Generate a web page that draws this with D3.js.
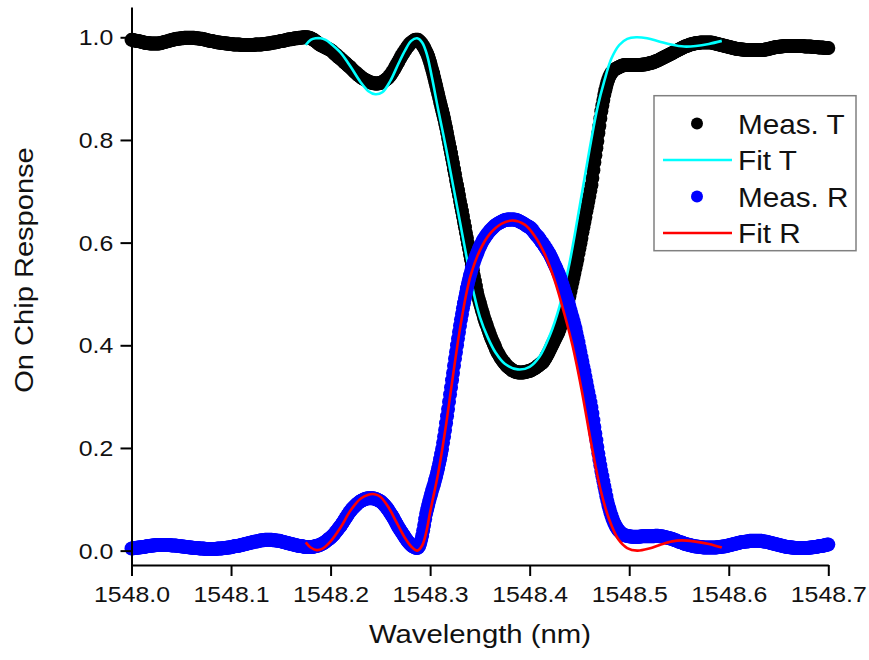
<!DOCTYPE html>
<html>
<head>
<meta charset="utf-8">
<script src="https://cdn.jsdelivr.net/npm/d3@7/dist/d3.min.js"></script>
<style>
  html, body { margin: 0; padding: 0; background: #fff; }
  svg { display: block; }
  text { font-family: "Liberation Sans", Arial, sans-serif; fill: #111; }
</style>
</head>
<body>
<svg id="chart" width="869" height="660"></svg>
<script>
// Sampling grid of the measured spectra (nm)
const wlStart = 1548.0;
const wlStep = 0.001;

// Measured transmission, one value per grid step (1548.000 ... 1548.700)
const measT = [
  0.995,0.995,0.994,0.994,0.993,0.993,0.993,0.993,0.992,0.992,0.991,0.991,0.990,0.990,0.989,0.989,0.989,0.989,0.988,0.988,
  0.988,0.988,0.988,0.988,0.988,0.988,0.988,0.988,0.988,0.989,0.989,0.990,0.990,0.991,0.991,0.992,0.992,0.993,0.993,0.994,
  0.994,0.995,0.995,0.996,0.996,0.997,0.997,0.997,0.997,0.998,0.998,0.998,0.998,0.999,0.999,0.999,0.999,0.999,0.999,0.999,
  0.999,0.999,0.999,0.999,0.998,0.998,0.998,0.998,0.997,0.997,0.997,0.997,0.996,0.996,0.995,0.995,0.994,0.994,0.993,0.993,
  0.993,0.993,0.992,0.992,0.991,0.991,0.990,0.990,0.990,0.990,0.989,0.989,0.989,0.989,0.988,0.988,0.988,0.988,0.987,0.987,
  0.987,0.987,0.986,0.986,0.986,0.986,0.986,0.986,0.986,0.986,0.985,0.985,0.985,0.985,0.985,0.985,0.985,0.985,0.985,0.985,
  0.985,0.985,0.985,0.985,0.986,0.986,0.986,0.986,0.986,0.986,0.986,0.986,0.987,0.987,0.987,0.987,0.988,0.988,0.988,0.988,
  0.989,0.989,0.990,0.990,0.990,0.990,0.991,0.991,0.992,0.992,0.993,0.993,0.993,0.993,0.994,0.994,0.995,0.995,0.996,0.996,
  0.996,0.996,0.997,0.997,0.998,0.998,0.998,0.998,0.999,0.999,0.999,0.999,1.000,1.000,1.000,1.000,1.000,1.000,0.999,0.999,
  0.998,0.997,0.996,0.995,0.994,0.992,0.991,0.989,0.988,0.986,0.985,0.984,0.983,0.982,0.981,0.980,0.979,0.978,0.977,0.976,
  0.975,0.974,0.972,0.970,0.968,0.967,0.965,0.963,0.961,0.960,0.958,0.957,0.955,0.953,0.951,0.950,0.948,0.946,0.944,0.943,
  0.941,0.939,0.937,0.935,0.933,0.932,0.930,0.928,0.926,0.925,0.923,0.922,0.920,0.919,0.918,0.917,0.916,0.915,0.914,0.913,
  0.912,0.912,0.911,0.911,0.910,0.910,0.910,0.910,0.910,0.911,0.911,0.912,0.913,0.914,0.915,0.917,0.918,0.920,0.921,0.924,
  0.926,0.929,0.932,0.935,0.938,0.942,0.945,0.949,0.952,0.956,0.959,0.963,0.966,0.969,0.972,0.975,0.978,0.981,0.983,0.986,
  0.988,0.990,0.991,0.993,0.994,0.995,0.995,0.995,0.995,0.993,0.991,0.989,0.986,0.983,0.980,0.976,0.972,0.968,0.963,0.957,
  0.951,0.944,0.937,0.930,0.922,0.914,0.906,0.898,0.890,0.882,0.874,0.866,0.858,0.850,0.842,0.833,0.824,0.814,0.804,0.794,
  0.784,0.774,0.764,0.754,0.743,0.733,0.722,0.712,0.702,0.692,0.681,0.671,0.661,0.651,0.640,0.630,0.619,0.609,0.598,0.588,
  0.577,0.567,0.556,0.546,0.535,0.525,0.515,0.505,0.496,0.489,0.482,0.475,0.468,0.462,0.455,0.449,0.443,0.438,0.432,0.427,
  0.421,0.416,0.411,0.407,0.402,0.398,0.393,0.389,0.385,0.382,0.378,0.375,0.372,0.370,0.367,0.365,0.362,0.360,0.358,0.357,
  0.355,0.354,0.352,0.351,0.350,0.349,0.348,0.348,0.347,0.347,0.347,0.347,0.347,0.347,0.347,0.348,0.348,0.349,0.349,0.350,
  0.350,0.351,0.352,0.353,0.354,0.355,0.356,0.358,0.359,0.361,0.362,0.364,0.365,0.367,0.369,0.372,0.375,0.379,0.382,0.386,
  0.390,0.394,0.398,0.402,0.406,0.410,0.414,0.418,0.422,0.426,0.431,0.437,0.443,0.450,0.456,0.463,0.470,0.477,0.483,0.490,
  0.496,0.505,0.514,0.523,0.532,0.541,0.550,0.559,0.568,0.579,0.589,0.599,0.609,0.620,0.630,0.640,0.650,0.661,0.671,0.681,
  0.691,0.701,0.712,0.726,0.741,0.756,0.770,0.784,0.798,0.813,0.827,0.842,0.856,0.867,0.878,0.888,0.897,0.905,0.912,0.918,
  0.923,0.927,0.930,0.933,0.935,0.937,0.938,0.939,0.940,0.941,0.942,0.943,0.944,0.945,0.945,0.946,0.946,0.946,0.946,0.946,
  0.946,0.946,0.946,0.946,0.946,0.946,0.946,0.946,0.946,0.946,0.946,0.946,0.946,0.947,0.947,0.947,0.947,0.948,0.948,0.949,
  0.949,0.950,0.950,0.951,0.951,0.952,0.953,0.954,0.954,0.955,0.956,0.957,0.958,0.959,0.960,0.961,0.962,0.963,0.964,0.965,
  0.966,0.967,0.968,0.969,0.970,0.971,0.972,0.973,0.974,0.975,0.976,0.977,0.978,0.979,0.980,0.981,0.982,0.983,0.983,0.984,
  0.985,0.986,0.986,0.987,0.987,0.988,0.988,0.989,0.989,0.989,0.989,0.990,0.990,0.990,0.990,0.990,0.990,0.990,0.990,0.990,
  0.990,0.990,0.990,0.990,0.989,0.989,0.988,0.988,0.987,0.987,0.986,0.986,0.985,0.985,0.984,0.984,0.983,0.983,0.982,0.982,
  0.981,0.981,0.980,0.980,0.979,0.979,0.978,0.978,0.977,0.977,0.977,0.977,0.976,0.976,0.976,0.976,0.975,0.975,0.975,0.975,
  0.975,0.975,0.975,0.975,0.975,0.975,0.975,0.975,0.975,0.975,0.975,0.975,0.975,0.975,0.975,0.975,0.976,0.976,0.976,0.977,
  0.977,0.978,0.978,0.979,0.979,0.980,0.980,0.981,0.981,0.981,0.981,0.982,0.982,0.982,0.982,0.983,0.983,0.983,0.983,0.983,
  0.983,0.983,0.983,0.983,0.983,0.983,0.983,0.983,0.983,0.983,0.983,0.983,0.983,0.983,0.983,0.983,0.982,0.982,0.982,0.982,
  0.982,0.982,0.982,0.982,0.981,0.981,0.981,0.981,0.981,0.981,0.980,0.980,0.980,0.980,0.980,0.980,0.979,0.979,0.979,0.979,
  0.979
];

// Measured reflection, one value per grid step (1548.000 ... 1548.700)
const measR = [
  0.004,0.004,0.005,0.005,0.005,0.005,0.006,0.006,0.006,0.006,0.007,0.007,0.007,0.007,0.008,0.008,0.009,0.009,0.009,0.009,
  0.010,0.010,0.010,0.010,0.011,0.011,0.011,0.011,0.011,0.011,0.011,0.011,0.011,0.011,0.011,0.011,0.011,0.011,0.011,0.011,
  0.010,0.010,0.010,0.010,0.010,0.010,0.009,0.009,0.009,0.009,0.008,0.008,0.008,0.008,0.007,0.007,0.007,0.007,0.006,0.006,
  0.006,0.006,0.005,0.005,0.005,0.005,0.005,0.005,0.004,0.004,0.004,0.004,0.004,0.004,0.003,0.003,0.003,0.003,0.003,0.003,
  0.003,0.003,0.003,0.003,0.003,0.003,0.004,0.004,0.004,0.004,0.004,0.004,0.005,0.005,0.005,0.005,0.006,0.006,0.006,0.006,
  0.007,0.007,0.008,0.008,0.009,0.009,0.009,0.009,0.010,0.010,0.011,0.011,0.012,0.012,0.013,0.013,0.014,0.014,0.015,0.015,
  0.016,0.016,0.017,0.017,0.018,0.018,0.018,0.018,0.019,0.019,0.020,0.020,0.020,0.020,0.021,0.021,0.021,0.021,0.021,0.021,
  0.021,0.021,0.020,0.020,0.020,0.020,0.019,0.019,0.019,0.019,0.018,0.018,0.017,0.017,0.016,0.016,0.015,0.015,0.014,0.014,
  0.013,0.013,0.012,0.012,0.011,0.011,0.010,0.010,0.009,0.009,0.009,0.009,0.008,0.008,0.007,0.007,0.007,0.007,0.007,0.007,
  0.007,0.007,0.007,0.008,0.008,0.009,0.009,0.010,0.010,0.011,0.012,0.013,0.014,0.015,0.016,0.018,0.019,0.021,0.022,0.024,
  0.025,0.027,0.029,0.031,0.033,0.036,0.038,0.041,0.043,0.046,0.048,0.051,0.054,0.057,0.060,0.063,0.066,0.069,0.072,0.075,
  0.077,0.080,0.082,0.084,0.086,0.088,0.090,0.092,0.093,0.095,0.096,0.097,0.098,0.099,0.100,0.101,0.101,0.102,0.102,0.102,
  0.102,0.102,0.102,0.102,0.101,0.101,0.100,0.099,0.098,0.097,0.096,0.095,0.093,0.091,0.089,0.087,0.084,0.082,0.079,0.076,
  0.073,0.070,0.067,0.064,0.060,0.057,0.053,0.050,0.046,0.043,0.040,0.037,0.034,0.031,0.028,0.025,0.022,0.020,0.017,0.015,
  0.013,0.011,0.009,0.008,0.007,0.006,0.005,0.005,0.006,0.009,0.014,0.021,0.029,0.039,0.050,0.061,0.072,0.080,0.088,0.096,
  0.103,0.110,0.117,0.124,0.130,0.137,0.144,0.152,0.160,0.169,0.178,0.188,0.198,0.210,0.222,0.235,0.248,0.262,0.276,0.290,
  0.304,0.318,0.332,0.346,0.360,0.374,0.387,0.400,0.413,0.426,0.438,0.450,0.461,0.472,0.482,0.492,0.502,0.511,0.520,0.528,
  0.536,0.543,0.550,0.556,0.562,0.568,0.573,0.578,0.583,0.588,0.592,0.596,0.600,0.604,0.607,0.610,0.613,0.616,0.618,0.621,
  0.623,0.625,0.627,0.629,0.631,0.633,0.634,0.636,0.637,0.638,0.639,0.640,0.641,0.642,0.643,0.644,0.644,0.645,0.645,0.645,
  0.645,0.645,0.645,0.645,0.645,0.645,0.644,0.644,0.643,0.642,0.641,0.640,0.639,0.638,0.637,0.636,0.634,0.633,0.632,0.631,
  0.630,0.628,0.626,0.624,0.621,0.619,0.616,0.614,0.612,0.610,0.607,0.604,0.601,0.599,0.596,0.593,0.590,0.587,0.584,0.581,
  0.578,0.574,0.570,0.566,0.561,0.557,0.553,0.549,0.544,0.540,0.535,0.530,0.524,0.518,0.512,0.506,0.500,0.494,0.488,0.482,
  0.475,0.468,0.461,0.454,0.447,0.440,0.433,0.424,0.415,0.406,0.396,0.387,0.377,0.368,0.358,0.349,0.339,0.329,0.319,0.309,
  0.299,0.289,0.279,0.267,0.254,0.241,0.228,0.215,0.202,0.189,0.177,0.166,0.155,0.145,0.135,0.125,0.116,0.106,0.097,0.089,
  0.082,0.075,0.069,0.063,0.058,0.054,0.050,0.046,0.043,0.040,0.038,0.036,0.034,0.032,0.031,0.030,0.030,0.029,0.029,0.028,
  0.028,0.028,0.027,0.027,0.027,0.027,0.027,0.027,0.027,0.027,0.027,0.027,0.028,0.028,0.028,0.028,0.028,0.028,0.028,0.028,
  0.028,0.028,0.028,0.028,0.028,0.028,0.029,0.029,0.029,0.029,0.028,0.028,0.028,0.028,0.027,0.027,0.026,0.026,0.025,0.025,
  0.024,0.024,0.023,0.023,0.022,0.021,0.020,0.020,0.019,0.018,0.017,0.017,0.016,0.016,0.015,0.014,0.013,0.013,0.012,0.012,
  0.011,0.011,0.010,0.010,0.009,0.009,0.008,0.008,0.008,0.008,0.007,0.007,0.007,0.007,0.006,0.006,0.006,0.006,0.006,0.006,
  0.006,0.006,0.006,0.006,0.006,0.006,0.006,0.006,0.006,0.007,0.007,0.007,0.007,0.008,0.008,0.008,0.008,0.009,0.009,0.010,
  0.010,0.011,0.011,0.012,0.012,0.013,0.013,0.014,0.014,0.015,0.015,0.016,0.016,0.017,0.017,0.017,0.017,0.018,0.018,0.018,
  0.018,0.019,0.019,0.019,0.019,0.019,0.019,0.019,0.019,0.019,0.019,0.019,0.019,0.019,0.018,0.018,0.018,0.018,0.017,0.017,
  0.016,0.016,0.015,0.015,0.014,0.014,0.013,0.013,0.012,0.012,0.011,0.011,0.010,0.010,0.009,0.009,0.008,0.008,0.007,0.007,
  0.007,0.007,0.006,0.006,0.006,0.006,0.005,0.005,0.005,0.005,0.005,0.005,0.005,0.005,0.005,0.005,0.005,0.005,0.005,0.005,
  0.005,0.006,0.006,0.006,0.006,0.007,0.007,0.007,0.007,0.008,0.008,0.009,0.009,0.009,0.009,0.010,0.010,0.011,0.011,0.012,
  0.012
];

// Fitted transmission
const fitTWl = [1548.175,1548.180,1548.185,1548.190,1548.195,1548.200,1548.210,1548.220,1548.230,1548.238,
  1548.245,1548.252,1548.260,1548.268,1548.275,1548.281,1548.287,1548.292,1548.297,1548.302,
  1548.308,1548.316,1548.323,1548.330,1548.337,1548.344,1548.350,1548.358,1548.366,1548.375,
  1548.388,1548.400,1548.410,1548.420,1548.430,1548.440,1548.450,1548.460,1548.468,1548.475,
  1548.482,1548.490,1548.498,1548.507,1548.518,1548.530,1548.542,1548.555,1548.567,1548.580,
  1548.593];
const fitT = [0.985,0.995,0.998,0.998,0.995,0.988,0.970,0.943,0.913,0.895,
  0.889,0.893,0.915,0.948,0.975,0.993,0.998,0.990,0.965,0.920,
  0.860,0.784,0.712,0.640,0.568,0.500,0.455,0.415,0.385,0.364,
  0.353,0.358,0.378,0.418,0.476,0.560,0.668,0.780,0.862,0.915,
  0.958,0.985,0.997,1.000,0.998,0.992,0.986,0.982,0.983,0.987,
  0.993];

// Fitted reflection
const fitRWl = [1548.175,1548.180,1548.186,1548.192,1548.200,1548.210,1548.220,1548.230,1548.238,1548.244,
  1548.250,1548.258,1548.266,1548.274,1548.281,1548.287,1548.292,1548.296,1548.300,1548.304,
  1548.308,1548.312,1548.316,1548.320,1548.324,1548.328,1548.332,1548.336,1548.341,1548.350,
  1548.360,1548.372,1548.383,1548.395,1548.405,1548.415,1548.425,1548.435,1548.443,1548.452,
  1548.462,1548.471,1548.480,1548.489,1548.498,1548.508,1548.520,1548.532,1548.543,1548.553,
  1548.565,1548.580,1548.593];
const fitR = [0.016,0.006,0.001,0.004,0.018,0.045,0.078,0.101,0.109,0.110,
  0.105,0.085,0.056,0.027,0.008,0.000,0.010,0.035,0.075,0.112,
  0.150,0.195,0.245,0.300,0.355,0.408,0.455,0.497,0.538,0.585,
  0.617,0.637,0.643,0.635,0.613,0.578,0.527,0.460,0.400,0.315,
  0.207,0.120,0.060,0.022,0.005,0.000,0.004,0.012,0.018,0.020,
  0.018,0.013,0.006];

// Axis ticks
const xTicks = [1548.0,1548.1,1548.2,1548.3,1548.4,1548.5,1548.6,1548.7];
const xMinorTicks = [1548.05,1548.15,1548.25,1548.35,1548.45,1548.55,1548.65];
const yTicks = [0.0,0.2,0.4,0.6,0.8,1.0];
const yMinorTicks = [0.1,0.3,0.5,0.7,0.9];

// Legend entries
const legendLabels = ["Meas. T","Fit T","Meas. R","Fit R"];
const legendKinds = ["dot","line","dot","line"];
const legendColors = ["#000000","#00ffff","#0000ff","#ff0000"];

const svg = d3.select("#chart");
svg.append("rect").attr("width", 869).attr("height", 660).attr("fill", "#fff");

const x = d3.scaleLinear().domain([1548.0, 1548.7]).range([131.5, 828.3]);
const y = d3.scaleLinear().domain([-0.028, 1.059]).range([565, 7]);

const plot = svg.append("g");

function drawDots(values, color) {
  plot.append("g")
    .selectAll("circle")
    .data(values)
    .join("circle")
    .attr("cx", (d, i) => x(wlStart + i * wlStep))
    .attr("cy", d => y(d))
    .attr("r", 7)
    .attr("fill", color);
}

function drawFit(wl, values, color) {
  const line = d3.line()
    .x((d, i) => x(wl[i]))
    .y(d => y(d))
    .curve(d3.curveCatmullRom.alpha(0.5));
  plot.append("path")
    .datum(values)
    .attr("d", line)
    .attr("fill", "none")
    .attr("stroke", color)
    .attr("stroke-width", 2.6)
    .attr("stroke-linejoin", "round");
}

drawDots(measT, "#000000");
drawFit(fitTWl, fitT, "#00ffff");
drawDots(measR, "#0000ff");
drawFit(fitRWl, fitR, "#ff0000");

// Axes
const fmt = d3.format(".1f");
const tickFont = 22;
const textStretch = 1.13;

const gx = svg.append("g").attr("transform", "translate(0,565)");
gx.call(d3.axisBottom(x).tickValues(xMinorTicks).tickSize(6).tickSizeOuter(0).tickFormat(""));
gx.call(d3.axisBottom(x).tickValues(xTicks).tickSize(11).tickSizeOuter(0).tickFormat(fmt));
gx.selectAll(".domain").attr("stroke", "#000").attr("stroke-width", 2);
gx.selectAll(".tick line").attr("stroke", "#000").attr("stroke-width", 2);
gx.selectAll(".tick text")
  .attr("y", 37.5).attr("dy", null)
  .attr("transform", `scale(${textStretch},1)`)
  .style("font-size", tickFont + "px")
  .style("font-family", '"Liberation Sans", Arial, sans-serif')
  .attr("fill", "#111");

const gy = svg.append("g").attr("transform", "translate(131.5,0)");
gy.call(d3.axisLeft(y).tickValues(yMinorTicks).tickSize(6).tickSizeOuter(0).tickFormat(""));
gy.call(d3.axisLeft(y).tickValues(yTicks).tickSize(11).tickSizeOuter(0).tickFormat(fmt));
gy.selectAll(".domain").attr("stroke", "#000").attr("stroke-width", 2);
gy.selectAll(".tick line").attr("stroke", "#000").attr("stroke-width", 2);
gy.selectAll(".tick text")
  .attr("x", -18.2 / textStretch).attr("dy", "0.35em")
  .attr("transform", `scale(${textStretch},1)`)
  .style("font-size", tickFont + "px")
  .style("font-family", '"Liberation Sans", Arial, sans-serif')
  .attr("fill", "#111");

// Axis titles
svg.append("text")
  .attr("transform", "translate(480,643) scale(1.15,1)")
  .attr("text-anchor", "middle")
  .style("font-size", "25.5px")
  .text("Wavelength (nm)");

svg.append("text")
  .attr("transform", "translate(33,270) rotate(-90) scale(1.14,1)")
  .attr("text-anchor", "middle")
  .style("font-size", "25.5px")
  .text("On Chip Response");

// Legend
const legend = svg.append("g");
legend.append("rect")
  .attr("x", 654).attr("y", 95.7).attr("width", 202).attr("height", 155)
  .attr("fill", "#fff").attr("stroke", "#808080").attr("stroke-width", 1.5);

legendLabels.forEach((label, i) => {
  const cy = 123.5 + i * 36.5;
  if (legendKinds[i] === "dot") {
    legend.append("circle").attr("cx", 697).attr("cy", cy).attr("r", 6).attr("fill", legendColors[i]);
  } else {
    legend.append("line").attr("x1", 663).attr("x2", 732).attr("y1", cy).attr("y2", cy)
      .attr("stroke", legendColors[i]).attr("stroke-width", 2.6);
  }
  legend.append("text")
    .attr("transform", `translate(738,${cy + 10.2}) scale(1.08,1)`)
    .style("font-size", "27.5px")
    .text(label);
});
</script>
</body>
</html>
